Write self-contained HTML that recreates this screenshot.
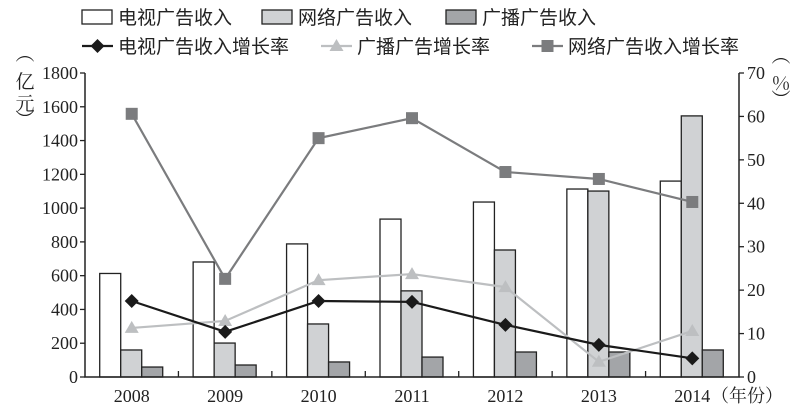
<!DOCTYPE html>
<html><head><meta charset="utf-8"><style>
body{margin:0;background:#fff}
svg{display:block;font-family:"Liberation Serif","Noto Serif CJK SC","Noto Sans CJK SC",serif}
</style></head><body>
<svg id="c" width="800" height="417" viewBox="0 0 800 417"></svg>
<script>
const years=["2008","2009","2010","2011","2012","2013","2014"];
const tvRevenue=[613,681,788,935,1036,1113,1160];
const netRevenue=[160,201,314,510,752,1101,1546];
const radioRevenue=[59,71,89,118,148,148,160];
const tvGrowth=[17.5,10.4,17.5,17.3,12.0,7.4,4.3];
const radioGrowth=[11.3,12.9,22.3,23.7,20.7,3.5,10.6];
const netGrowth=[60.6,22.6,55.0,59.6,47.2,45.6,40.3];
const leftTicks=[0,200,400,600,800,1000,1200,1400,1600,1800];
const rightTicks=[0,10,20,30,40,50,60,70];

const NS="http://www.w3.org/2000/svg";
const svg=document.getElementById('c');
const X0=85,X1=739,Y0=377,Y1=73;
const bw=(X1-X0)/years.length;
const yL=v=>Y0-(v/1800)*(Y0-Y1);
const yR=v=>Y0-(v/70)*(Y0-Y1);
const xc=i=>X0+bw*(i+0.5);
function mk(t,a,p){const e=document.createElementNS(NS,t);for(const k in a)e.setAttribute(k,a[k]);(p||svg).appendChild(e);return e;}

// bars
const barW=21;
const barSets=[[tvRevenue,"#fff","tv-revenue-bar"],[netRevenue,"#d0d2d4","net-revenue-bar"],[radioRevenue,"#a3a5a8","radio-revenue-bar"]];
barSets.forEach((s,k)=>{
  s[0].forEach((v,i)=>{
    const x=xc(i)-32+k*barW;
    const r=mk('rect',{x:x,y:yL(v),width:barW,height:Y0-yL(v),fill:s[1],stroke:"#222","stroke-width":1.3});
    
    
  });
});

// axes
const ax=mk('path',{d:`M${X0},${Y1}V${Y0}H${X1}V${Y1}`,fill:"none",stroke:"#222","stroke-width":1.5});


for(let i=1;i<years.length;i++){mk('line',{x1:X0+bw*i,x2:X0+bw*i,y1:Y0,y2:Y0-6,stroke:"#222","stroke-width":1.3});}
leftTicks.forEach(v=>{
  mk('line',{x1:X0-5,x2:X0,y1:yL(v),y2:yL(v),stroke:"#222","stroke-width":1.3});
  const t=mk('text',{x:X0-7,y:yL(v)+6,"text-anchor":"end","font-size":18,fill:"#222"});t.textContent=v;
  
  
});
rightTicks.forEach(v=>{
  mk('line',{x1:X1,x2:X1+5,y1:yR(v),y2:yR(v),stroke:"#222","stroke-width":1.3});
  const t=mk('text',{x:X1+8,y:yR(v)+6,"font-size":18,fill:"#222"});t.textContent=v;
  
  
});
years.forEach((y,i)=>{
  const t=mk('text',{x:xc(i),y:402,"text-anchor":"middle","font-size":18,fill:"#222"});t.textContent=y;
  
  
});
const xt=mk('text',{x:711,y:402,"font-size":18,fill:"#222","font-family":"Noto Serif CJK SC, serif"});xt.textContent="（年份）";


// y titles (vertical)
const lt=mk('text',{x:25,y:60,"text-anchor":"middle","font-size":19,fill:"#222","font-family":"Noto Serif CJK SC, serif"});


[["︵",0],["亿",28],["元",50],["︶",66]].forEach(c=>{const s=mk('tspan',{x:25,y:60+c[1]},lt);s.textContent=c[0];});
const rt=mk('text',{x:781,y:62,"text-anchor":"middle","font-size":19,fill:"#222","font-family":"Noto Serif CJK SC, serif"});


[["︵",0],["%",28],["︶",44]].forEach(c=>{const s=mk('tspan',{x:781,y:62+c[1]},rt);s.textContent=c[0];});

// markers
function marker(type,x,y,col,g){
  if(type==='d')return mk('path',{d:`M${x},${y-7}L${x+7},${y}L${x},${y+7}L${x-7},${y}Z`,fill:col},g);
  if(type==='t')return mk('path',{d:`M${x},${y-7}L${x+7},${y+5}L${x-7},${y+5}Z`,fill:col},g);
  return mk('rect',{x:x-6,y:y-6,width:12,height:12,fill:col},g);
}
const lines=[[netGrowth,"#7b7c7e",'s',"net-growth-line"],[radioGrowth,"#bdbfc1",'t',"radio-growth-line"],[tvGrowth,"#1a1a1a",'d',"tv-growth-line"]];
lines.forEach(l=>{
  const g=mk('g',{});
  
  
  mk('polyline',{points:l[0].map((v,i)=>xc(i)+","+yR(v)).join(" "),fill:"none",stroke:l[1],"stroke-width":2.2},g);
  l[0].forEach((v,i)=>{const m=marker(l[2],xc(i),yR(v),l[1],g);
    
    });
});

// legend
const leg=[
 [82,17,'box',"#fff","电视广告收入","legend-tv-revenue"],
 [262,17,'box',"#d0d2d4","网络广告收入","legend-net-revenue"],
 [446,17,'box',"#a3a5a8","广播广告收入","legend-radio-revenue"],
 [82,46,'d',"#1a1a1a","电视广告收入增长率","legend-tv-growth"],
 [321,46,'t',"#bdbfc1","广播广告增长率","legend-radio-growth"],
 [532,46,'s',"#7b7c7e","网络广告收入增长率","legend-net-growth"]];
leg.forEach(L=>{
  const g=mk('g',{});
  
  
  if(L[2]==='box')mk('rect',{x:L[0],y:L[1]-7,width:30,height:14,fill:L[3],stroke:"#222","stroke-width":1.3},g);
  else{mk('line',{x1:L[0],x2:L[0]+31,y1:L[1],y2:L[1],stroke:L[3],"stroke-width":2.2},g);marker(L[2],L[0]+15.5,L[1],L[3],g);}
  const t=mk('text',{x:L[0]+36,y:L[1]+7,"font-size":19,fill:"#222","font-family":"Noto Sans CJK SC, sans-serif"},g);t.textContent=L[4];
});
</script>
</body></html>
